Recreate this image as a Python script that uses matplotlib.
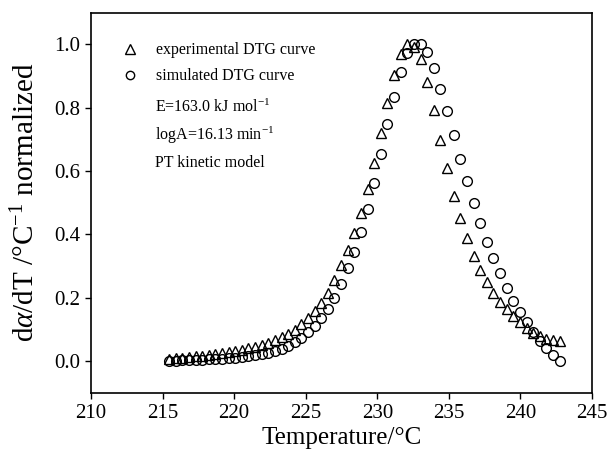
import matplotlib
matplotlib.use("Agg")
import matplotlib.pyplot as plt
from matplotlib.lines import Line2D

plt.rcParams['font.family'] = ['Liberation Serif', 'DejaVu Serif']
plt.rcParams['mathtext.fontset'] = 'custom'
plt.rcParams['mathtext.rm'] = 'Liberation Serif'
plt.rcParams['mathtext.it'] = 'Liberation Serif:italic'
plt.rcParams['mathtext.bf'] = 'Liberation Serif:bold'

temperature = [215.45, 215.91, 216.38, 216.84, 217.30, 217.76, 218.23, 218.69, 219.15, 219.61,
               220.08, 220.54, 221.00, 221.46, 221.93, 222.39, 222.85, 223.31, 223.78, 224.24,
               224.70, 225.16, 225.63, 226.09, 226.55, 227.01, 227.48, 227.94, 228.40, 228.86,
               229.33, 229.79, 230.25, 230.71, 231.18, 231.64, 232.10, 232.56, 233.03, 233.49,
               233.95, 234.41, 234.88, 235.34, 235.80, 236.26, 236.73, 237.19, 237.65, 238.11,
               238.58, 239.04, 239.50, 239.96, 240.43, 240.89, 241.35, 241.81, 242.28, 242.74]

experimental = [0.007, 0.009, 0.011, 0.013, 0.015, 0.017, 0.020, 0.023, 0.026, 0.029,
                0.032, 0.036, 0.041, 0.046, 0.052, 0.058, 0.066, 0.075, 0.086, 0.099,
                0.116, 0.136, 0.158, 0.185, 0.215, 0.255, 0.302, 0.352, 0.406, 0.469,
                0.544, 0.626, 0.720, 0.814, 0.903, 0.969, 1.000, 0.990, 0.953, 0.881,
                0.792, 0.698, 0.610, 0.522, 0.452, 0.389, 0.333, 0.289, 0.251, 0.216,
                0.188, 0.164, 0.143, 0.124, 0.106, 0.090, 0.080, 0.071, 0.067, 0.062]

simulated = [0.002, 0.002, 0.003, 0.003, 0.004, 0.005, 0.006, 0.007, 0.008, 0.009,
             0.011, 0.013, 0.015, 0.018, 0.021, 0.025, 0.031, 0.038, 0.048, 0.061,
             0.074, 0.092, 0.111, 0.137, 0.164, 0.200, 0.242, 0.294, 0.343, 0.408,
             0.480, 0.562, 0.654, 0.748, 0.834, 0.913, 0.973, 1.000, 1.000, 0.976,
             0.924, 0.858, 0.789, 0.713, 0.638, 0.567, 0.500, 0.437, 0.377, 0.324,
             0.277, 0.230, 0.190, 0.154, 0.123, 0.091, 0.064, 0.040, 0.019, 0.002]

x_ticks = [210, 215, 220, 225, 230, 235, 240, 245]
y_ticks = [0.0, 0.2, 0.4, 0.6, 0.8, 1.0]

legend_labels = ["experimental DTG curve", "simulated DTG curve"]
annotations = [r"E=163.0 kJ mol$^{-1}$", r"logA=16.13 min$^{-1}$", "PT kinetic model"]

fig = plt.figure(figsize=(6.08, 4.51), dpi=100)
ax = fig.add_axes([0.1497, 0.129, 0.824, 0.843])

ax.plot(temperature, experimental, linestyle='none', marker='^', markersize=7.5,
        markerfacecolor='none', markeredgecolor='black', markeredgewidth=1.0)
ax.plot(temperature, simulated, linestyle='none', marker='o', markersize=7,
        markerfacecolor='none', markeredgecolor='black', markeredgewidth=1.0)

ax.set_xlim(210, 245)
ax.set_ylim(-0.1, 1.1)
ax.set_xticks(x_ticks)
ax.set_yticks(y_ticks)
ax.set_yticklabels([f"{v:.1f}" for v in y_ticks])
ax.tick_params(direction='out', length=4, width=1, labelsize=15, pad=4)
for s in ax.spines.values():
    s.set_linewidth(1.2)

ax.set_xlabel("Temperature/°C", fontsize=18, labelpad=3)
ax.set_ylabel(r"d$\alpha$/dT /°C$^{-1}$ normalized", fontsize=21)
ax.yaxis.set_label_coords(-0.102, 0.5)

handles = [Line2D([], [], linestyle='none', marker='^', markersize=6.5, markerfacecolor='none',
                  markeredgecolor='black', markeredgewidth=1.0),
           Line2D([], [], linestyle='none', marker='o', markersize=6, markerfacecolor='none',
                  markeredgecolor='black', markeredgewidth=1.0)]
ax.legend(handles, legend_labels, loc='upper left', bbox_to_anchor=(0.062, 0.922),
          frameon=False, fontsize=11.5, handlelength=1.0, handletextpad=1.1,
          borderpad=0, borderaxespad=0, labelspacing=0.62)

for i, t in enumerate(annotations):
    ax.text(0.128, 0.752 - i * 0.0735, t, transform=ax.transAxes, fontsize=11.5,
            va='center', ha='left')

fig.savefig("out.png", dpi=100)
